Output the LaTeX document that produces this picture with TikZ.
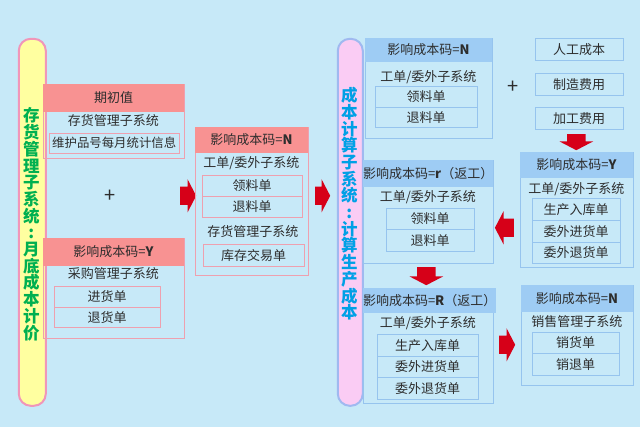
\documentclass[tikz,border=0pt]{standalone}
\usepackage{fontspec}
\setmainfont{Noto Sans CJK SC}
\usetikzlibrary{shapes.arrows,positioning}
\definecolor{bgblue}{RGB}{199,233,248}
\definecolor{hdred}{RGB}{248,146,146}
\definecolor{lnred}{RGB}{238,160,175}
\definecolor{hdblue}{RGB}{158,204,244}
\definecolor{lnblue}{RGB}{150,196,238}
\definecolor{arrred}{RGB}{214,0,24}
\definecolor{pillyel}{RGB}{255,255,160}
\definecolor{pillpink}{RGB}{240,150,185}
\definecolor{pilllav}{RGB}{250,204,244}
\definecolor{pillline}{RGB}{160,185,240}
\definecolor{txtgray}{RGB}{45,45,45}
\definecolor{vgreen}{RGB}{0,176,80}
\definecolor{vblue}{RGB}{0,160,230}

\begin{document}
\begin{tikzpicture}[x=1pt, y=-1pt,
  txt/.style={font=\fontsize{13}{14}\selectfont, text=txtgray, inner sep=0pt},
  redframe/.style={draw=lnred, line width=1pt, anchor=north west, inner sep=0pt},
  blueframe/.style={draw=lnblue, line width=1pt, anchor=north west, inner sep=0pt},
  redhead/.style={txt, fill=hdred, anchor=north west},
  bluehead/.style={txt, fill=hdblue, anchor=north west},
  itemred/.style={txt, draw=lnred, line width=0.8pt, anchor=north west},
  itemblue/.style={txt, draw=lnblue, line width=0.8pt, anchor=north west},
  redarrow/.style={shape=single arrow, fill=arrred, inner xsep=0pt, inner ysep=9pt,
    single arrow head extend=7.5pt, single arrow tip angle=125},
  downarrow/.style={redarrow, inner xsep=9pt, inner ysep=0pt, shape border rotate=270},
  pill/.style={rounded corners=12pt, line width=2pt, anchor=north west, inner sep=0pt},
  vtext/.style={font=\fontsize{16.5}{16.7}\selectfont\bfseries, align=center, inner sep=0pt},
  plus/.style={font=\fontsize{20}{20}\selectfont, text=txtgray, inner sep=0pt}
]
\node[fill=bgblue, anchor=north west, minimum width=640pt, minimum height=427pt, inner sep=0pt] (bg) at (0,0) {};

\node[pill, draw=pillpink, fill=pillyel, minimum width=27pt, minimum height=367pt] (pillL) at (18,38) {};
\node[vtext, text=vgreen] (vL) at (31.5,224.5) {存\\货\\管\\理\\子\\系\\统\\:\\月\\底\\成\\本\\计\\价};

\node[redframe, minimum width=141pt, minimum height=74pt] (frQ) at (43,84) {};
\node[redhead, minimum width=141pt, minimum height=28pt] (hdQ) at (43,84) {期初值};
\node[txt] (sQ) at (113.5,121) {存货管理子系统};
\node[itemred, minimum width=130pt, minimum height=20pt, font=\fontsize{12.4}{14}\selectfont] (iQ) at (49,133) {维护品号每月统计信息};

\node[plus] (plL) at (110,196) {+};

\node[redframe, minimum width=141pt, minimum height=100pt] (frY) at (43,238) {};
\node[redhead, minimum width=141pt, minimum height=28pt] (hdY) at (43,238) {影响成本码=\textbf{Y}};
\node[txt] (sY) at (113.5,274) {采购管理子系统};
\node[itemred, minimum width=106pt, minimum height=21pt] (iY1) at (54,286) {进货单};
\node[itemred, minimum width=106pt, minimum height=20pt] (iY2) at (54,307) {退货单};

\node[redarrow, minimum height=16pt] (arA) at (186,196) {};

\node[redframe, minimum width=113pt, minimum height=148pt] (frN) at (195,127) {};
\node[redhead, minimum width=113pt, minimum height=26pt] (hdN) at (195,127) {影响成本码=\textbf{N}};
\node[txt] (sN1) at (251.5,163) {工单/委外子系统};
\node[itemred, minimum width=100pt, minimum height=21pt] (iN1) at (202,175) {领料单};
\node[itemred, minimum width=100pt, minimum height=21pt] (iN2) at (202,196) {退料单};
\node[txt] (sN2) at (253,232) {存货管理子系统};
\node[itemred, minimum width=101pt, minimum height=22pt] (iN3) at (203,244) {库存交易单};

\node[redarrow, minimum height=15pt] (arB) at (320.5,196) {};

\node[pill, draw=pillline, fill=pilllav, minimum width=25pt, minimum height=367pt] (pillR) at (337,38) {};
\node[vtext, text=vblue] (vR) at (349.5,204) {成\\本\\计\\算\\子\\系\\统\\:\\计\\算\\生\\产\\成\\本};

\node[blueframe, minimum width=127pt, minimum height=100pt] (frP) at (365,38) {};
\node[bluehead, minimum width=127pt, minimum height=24pt] (hdP) at (365,38) {影响成本码=\textbf{N}};
\node[txt] (sP) at (428.5,77) {工单/委外子系统};
\node[itemblue, minimum width=102pt, minimum height=21pt] (iP1) at (375,86) {领料单};
\node[itemblue, minimum width=102pt, minimum height=20pt] (iP2) at (375,107) {退料单};

\node[plus] (plR) at (513,87) {+};
\foreach \t/\y [count=\i] in {人工成本/38, 制造费用/73, 加工费用/107}
  \node[itemblue, minimum width=88pt, minimum height=22pt] (fy\i) at (535,\y) {\t};

\node[downarrow, minimum height=16pt] (arC) at (576.5,140) {};

\node[blueframe, minimum width=130pt, minimum height=103pt] (frr) at (363,160) {};
\node[bluehead, minimum width=130pt, minimum height=27pt] (hdr) at (363,160) {影响成本码=\textbf{r}（返工）};
\node[txt] (sr) at (428,197) {工单/委外子系统};
\node[itemblue, minimum width=88pt, minimum height=21pt] (ir1) at (386,208) {领料单};
\node[itemblue, minimum width=88pt, minimum height=22pt] (ir2) at (386,229) {退料单};

\node[redarrow, minimum height=19pt, shape border rotate=180] (arD) at (507,228) {};

\node[blueframe, minimum width=113pt, minimum height=115pt] (frYr) at (520,152) {};
\node[bluehead, minimum width=113pt, minimum height=26pt] (hdYr) at (520,152) {影响成本码=\textbf{Y}};
\node[txt] (sYr) at (576.5,189) {工单/委外子系统};
\node[itemblue, minimum width=88pt, minimum height=22pt] (iYr1) at (532,198) {生产入库单};
\node[itemblue, minimum width=88pt, minimum height=22pt] (iYr2) at (532,220) {委外进货单};
\node[itemblue, minimum width=88pt, minimum height=21pt] (iYr3) at (532,242) {委外退货单};

\node[downarrow, minimum height=18pt] (arE) at (426.5,274) {};

\node[blueframe, minimum width=130pt, minimum height=115pt] (frR) at (363,288) {};
\node[bluehead, minimum width=130pt, minimum height=25pt] (hdR) at (363,288) {影响成本码=\textbf{R}（返工）};
\node[txt] (sR) at (428,323) {工单/委外子系统};
\node[itemblue, minimum width=101pt, minimum height=22pt] (iR1) at (377,334) {生产入库单};
\node[itemblue, minimum width=101pt, minimum height=21pt] (iR2) at (377,356) {委外进货单};
\node[itemblue, minimum width=101pt, minimum height=22pt] (iR3) at (377,377) {委外退货单};

\node[redarrow, minimum height=16pt] (arF) at (505,345) {};

\node[blueframe, minimum width=112pt, minimum height=100pt] (frS) at (521,285) {};
\node[bluehead, minimum width=112pt, minimum height=27pt] (hdS) at (521,285) {影响成本码=\textbf{N}};
\node[txt] (sS) at (577,322) {销售管理子系统};
\node[itemblue, minimum width=87pt, minimum height=21pt] (iS1) at (532,332) {销货单};
\node[itemblue, minimum width=87pt, minimum height=22pt] (iS2) at (532,353) {销退单};
\end{tikzpicture}
\end{document}
